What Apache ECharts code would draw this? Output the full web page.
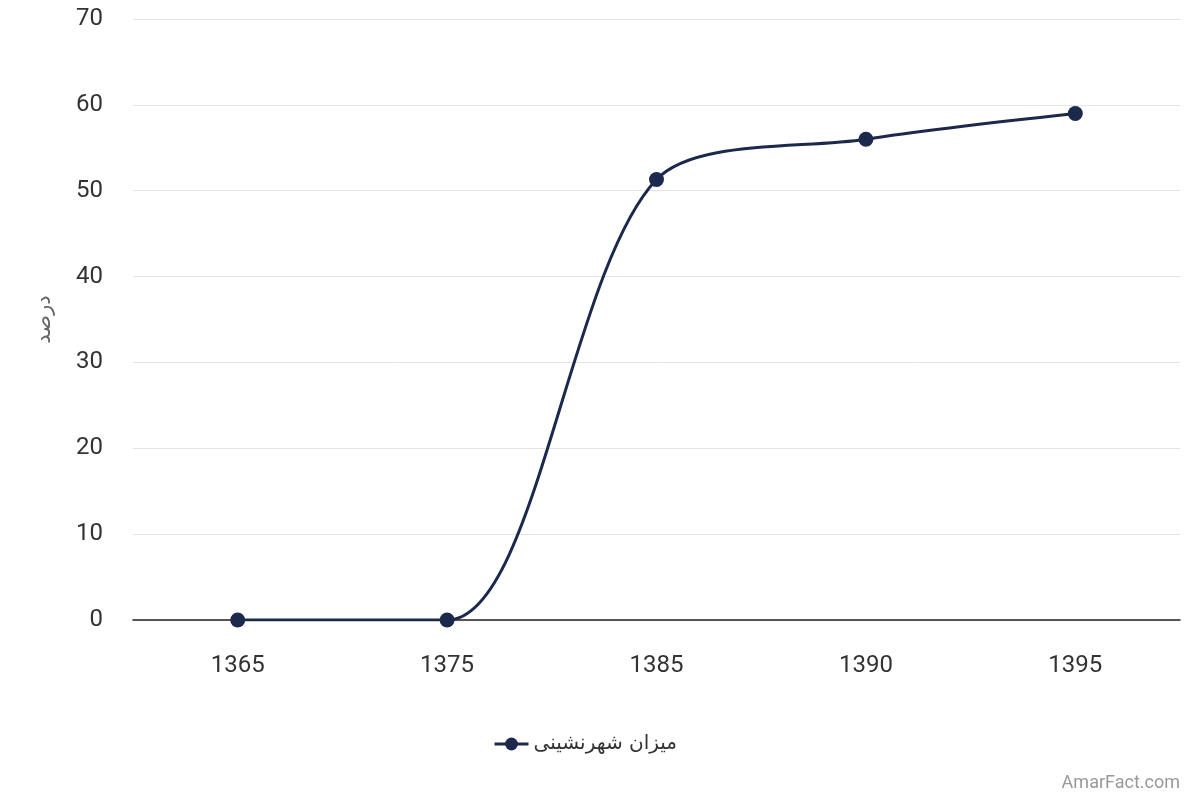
<!DOCTYPE html>
<html><head><meta charset="utf-8">
<script src="https://cdn.jsdelivr.net/npm/echarts@6/dist/echarts.min.js"></script>
<style>html,body{margin:0;padding:0;background:#fff}#c{width:1200px;height:800px}</style>
</head><body><div id="c"></div>
<script>
const categories = ['1365','1375','1385','1390','1395'];
const urbanization = [0, 0, 51.3, 56, 59];
const seriesName = 'میزان شهرنشینی';
const yName = 'درصد';

const chart = echarts.init(document.getElementById('c'));
chart.setOption({
  animation: false,
  textStyle: {fontFamily: 'Roboto, "Noto Sans", sans-serif'},
  grid: {left: 133, right: 20, top: 19, bottom: 180},
  legend: {
    bottom: 41, left: 488,
    itemWidth: 34, itemHeight: 16, itemGap: 6,
    lineStyle: {width: 3},
    textStyle: {fontSize: 20, color: '#333', fontFamily: '"DejaVu Sans", sans-serif'},
    data: [seriesName]
  },
  xAxis: {
    type: 'category', data: categories, boundaryGap: true,
    axisLine: {lineStyle: {color: '#222', width: 1.5}},
    axisTick: {show: false},
    axisLabel: {fontSize: 24, color: '#333', margin: 34}
  },
  yAxis: {
    type: 'value', min: 0, max: 70, interval: 10,
    name: yName, nameLocation: 'middle', nameGap: 78,
    nameTextStyle: {fontSize: 21, color: '#666', fontFamily: '"DejaVu Sans", sans-serif'},
    axisLine: {show: false}, axisTick: {show: false},
    axisLabel: {fontSize: 24, color: '#333', margin: 30},
    splitLine: {lineStyle: {color: '#e3e3e3', width: 1}}
  },
  series: [{
    name: seriesName, type: 'line', data: urbanization, smooth: 0.3,
    symbol: 'circle', symbolSize: 15,
    lineStyle: {color: '#1b2a4c', width: 3},
    itemStyle: {color: '#1b2a4c'}
  }],
  graphic: [{
    type: 'text', right: 20, bottom: 8,
    style: {text: 'AmarFact.com', fontSize: 18, fill: '#999', fontFamily: 'Roboto, sans-serif'}
  }]
});
</script></body></html>
